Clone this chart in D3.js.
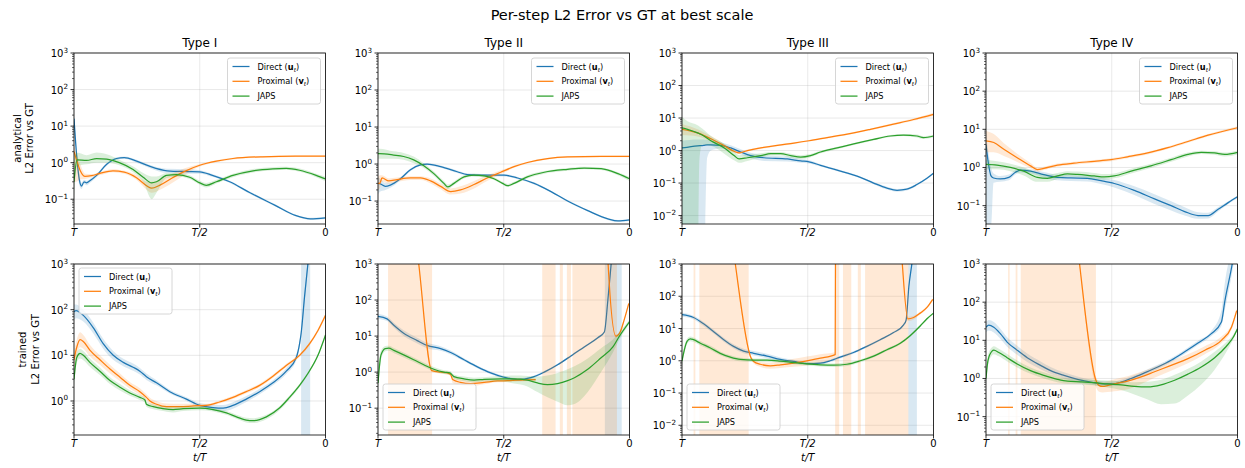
<!DOCTYPE html>
<html>
<head>
<meta charset="utf-8">
<script src="https://cdn.jsdelivr.net/npm/d3@7"></script>
<style>
  body { margin: 0; background: #fff; }
  text { font-family: "DejaVu Sans", sans-serif; fill: #000; }
</style>
</head>
<body>
<svg id="fig" width="1245" height="468"></svg>
<script>
// ---- labels ----
var suptitle = "Per-step L2 Error vs GT at best scale";
var colTitles = ["Type I", "Type II", "Type III", "Type IV"];
var rowLabels = ["analytical", "trained"];
var xTickVals = [0, 0.5, 1];
var xTickText = ["T", "T/2", "0"];
var methodNames = ["Direct", "Proximal", "JAPS"];
var methodSym = ["u", "v", null];
var colors = ["#1f77b4", "#ff7f0e", "#2ca02c"];
// lower end of each log y-axis (upper end is 1e3)
var anYmin = [0.021, 0.024, 0.0055, 0.033];
var trYmin = [0.18, 0.018, 0.005, 0.033];

// ---- data: [position from T (0) to 0 (1), mean, band low, band high] ----
var an1_dir = [[0,16,12,20],[0.005,5,3.5,7],[0.012,1.2,0.8,1.6],[0.021,0.35,0.25,0.5],[0.03,0.23,0.19,0.28],[0.04,0.3,0.26,0.34],[0.05,0.28,0.24,0.32],[0.063,0.32,0.28,0.36],[0.09,0.45,0.4,0.5],[0.13,0.9,0.82,0.98],[0.169,1.3,1.2,1.4],[0.2,1.38,1.28,1.48],[0.249,1.1,1.0,1.2],[0.3,0.8,0.72,0.88],[0.37,0.6,0.52,0.68],[0.45,0.57,0.5,0.66],[0.5,0.56,0.5,0.62],[0.55,0.45,0.41,0.49],[0.619,0.3,0.28,0.32],[0.7,0.15,0.14,0.16],[0.8,0.068,0.063,0.073],[0.88,0.036,0.034,0.038],[0.94,0.029,0.027,0.031],[1,0.031,0.029,0.033]];
var an1_prox = [[0,2.0,0.3,3.0],[0.01,1.2,0.3,1.8],[0.025,0.6,0.35,0.9],[0.044,0.42,0.36,0.5],[0.07,0.44,0.4,0.49],[0.1,0.5,0.45,0.55],[0.155,0.6,0.55,0.66],[0.2,0.55,0.5,0.6],[0.25,0.38,0.33,0.45],[0.29,0.23,0.18,0.3],[0.309,0.2,0.15,0.3],[0.34,0.24,0.18,0.34],[0.39,0.38,0.28,0.5],[0.44,0.58,0.46,0.7],[0.5,0.85,0.78,0.92],[0.566,1.1,1.03,1.17],[0.632,1.3,1.23,1.37],[0.75,1.45,1.38,1.52],[0.88,1.5,1.43,1.57],[1,1.5,1.43,1.57]];
var an1_japs = [[0,0.3,0.1,1.5],[0.012,1.2,0.8,1.9],[0.05,1.15,0.9,1.6],[0.09,1.3,1.0,1.9],[0.13,1.25,1.0,1.7],[0.18,1.0,0.85,1.2],[0.235,0.65,0.55,0.78],[0.275,0.4,0.3,0.52],[0.309,0.28,0.1,0.42],[0.328,0.3,0.15,0.42],[0.368,0.45,0.38,0.52],[0.407,0.47,0.42,0.53],[0.46,0.4,0.36,0.45],[0.5,0.28,0.25,0.32],[0.526,0.24,0.21,0.28],[0.566,0.3,0.27,0.34],[0.632,0.45,0.4,0.5],[0.712,0.6,0.54,0.67],[0.791,0.68,0.62,0.75],[0.844,0.7,0.64,0.77],[0.897,0.62,0.56,0.69],[0.963,0.45,0.4,0.5],[1,0.36,0.31,0.41]];

var an2_dir = [[0,0.3,0.15,0.45],[0.009,0.29,0.18,0.4],[0.029,0.25,0.2,0.31],[0.049,0.27,0.23,0.31],[0.089,0.4,0.36,0.44],[0.129,0.7,0.64,0.76],[0.169,0.95,0.88,1.02],[0.195,1.0,0.93,1.07],[0.249,0.85,0.79,0.91],[0.315,0.62,0.57,0.67],[0.355,0.52,0.48,0.56],[0.421,0.5,0.46,0.54],[0.501,0.5,0.46,0.54],[0.555,0.42,0.39,0.45],[0.621,0.3,0.28,0.32],[0.688,0.18,0.17,0.19],[0.754,0.1,0.094,0.106],[0.834,0.055,0.052,0.058],[0.914,0.033,0.031,0.035],[0.954,0.029,0.027,0.031],[1,0.031,0.029,0.033]];
var an2_prox = [[0,0.3,0.2,0.45],[0.007,0.3,0.22,0.5],[0.016,0.42,0.34,0.5],[0.043,0.35,0.3,0.41],[0.076,0.38,0.33,0.43],[0.129,0.42,0.37,0.47],[0.169,0.42,0.37,0.47],[0.209,0.35,0.3,0.41],[0.249,0.25,0.21,0.3],[0.289,0.18,0.15,0.22],[0.328,0.2,0.16,0.25],[0.382,0.28,0.22,0.35],[0.434,0.42,0.35,0.5],[0.488,0.6,0.53,0.68],[0.541,0.85,0.79,0.91],[0.594,1.1,1.04,1.16],[0.674,1.4,1.33,1.47],[0.754,1.55,1.48,1.62],[0.887,1.6,1.53,1.67],[1,1.6,1.53,1.67]];
var an2_japs = [[0,1.9,1.4,2.6],[0.005,1.9,1.4,2.6],[0.062,1.75,1.4,2.2],[0.102,1.6,1.3,2.0],[0.142,1.3,1.05,1.6],[0.182,0.9,0.78,1.05],[0.222,0.55,0.48,0.63],[0.262,0.3,0.26,0.35],[0.278,0.24,0.21,0.28],[0.302,0.3,0.27,0.34],[0.342,0.45,0.41,0.5],[0.382,0.5,0.46,0.55],[0.422,0.48,0.44,0.53],[0.461,0.4,0.37,0.44],[0.495,0.3,0.28,0.33],[0.515,0.26,0.24,0.29],[0.541,0.3,0.28,0.33],[0.594,0.45,0.41,0.5],[0.661,0.6,0.55,0.65],[0.754,0.72,0.66,0.78],[0.82,0.78,0.72,0.84],[0.887,0.75,0.69,0.81],[0.954,0.55,0.5,0.6],[1,0.4,0.35,0.45]];

var an3_dir = [[0,1.2,1e-4,2.0],[0.062,1.4,1e-4,2.2],[0.086,1.45,1e-4,2.2],[0.1,1.5,0.6,2.1],[0.115,1.5,1.0,2.0],[0.155,1.45,1.15,1.8],[0.194,1.2,1.0,1.45],[0.234,0.9,0.75,1.1],[0.273,0.7,0.58,0.85],[0.326,0.6,0.48,0.72],[0.419,0.55,0.46,0.65],[0.472,0.48,0.42,0.55],[0.505,0.45,0.4,0.5],[0.551,0.35,0.32,0.38],[0.617,0.25,0.23,0.27],[0.709,0.15,0.14,0.16],[0.762,0.1,0.092,0.108],[0.815,0.07,0.063,0.077],[0.855,0.06,0.054,0.066],[0.894,0.065,0.059,0.071],[0.934,0.09,0.083,0.097],[0.974,0.14,0.13,0.15],[1,0.2,0.185,0.215]];
var an3_prox = [[0,4.5,3.0,6.5],[0.062,3.5,2.7,4.5],[0.115,2.3,1.9,2.8],[0.168,1.4,1.2,1.6],[0.207,0.95,0.85,1.05],[0.227,0.85,0.78,0.93],[0.26,1.0,0.93,1.07],[0.313,1.2,1.12,1.28],[0.379,1.45,1.36,1.54],[0.445,1.7,1.6,1.8],[0.505,2.0,1.88,2.12],[0.577,2.5,2.35,2.65],[0.657,3.2,3.0,3.4],[0.749,4.5,4.2,4.8],[0.841,6.5,6.0,7.0],[0.921,9,8.3,9.7],[1,13,11.5,14.5]];
var an3_japs = [[0,5,1e-4,11],[0.022,4.5,1e-4,8],[0.062,3.5,1e-4,6],[0.069,3.3,0.5,5.5],[0.08,3.0,1.5,4.8],[0.115,2.0,1.4,2.8],[0.168,1.2,0.8,1.6],[0.207,0.7,0.5,0.95],[0.227,0.55,0.42,0.72],[0.26,0.6,0.48,0.75],[0.313,0.7,0.6,0.82],[0.353,0.8,0.7,0.9],[0.392,0.8,0.7,0.9],[0.432,0.7,0.6,0.8],[0.472,0.63,0.55,0.72],[0.511,0.7,0.62,0.78],[0.551,0.9,0.82,0.98],[0.617,1.2,1.1,1.3],[0.683,1.6,1.48,1.72],[0.762,2.2,2.05,2.35],[0.828,2.8,2.6,3.0],[0.881,3.0,2.8,3.2],[0.934,2.8,2.5,3.1],[0.96,2.5,2.25,2.75],[1,2.8,2.55,3.05]];

var an4_dir = [[0,4,0.03,8],[0.008,1.5,0.03,3],[0.02,0.6,0.03,1.0],[0.03,0.53,0.4,0.7],[0.057,0.5,0.42,0.6],[0.091,0.55,0.46,0.65],[0.117,0.75,0.65,0.86],[0.137,0.85,0.74,0.96],[0.177,0.8,0.7,0.9],[0.23,0.65,0.55,0.76],[0.284,0.55,0.46,0.65],[0.337,0.53,0.44,0.63],[0.403,0.52,0.43,0.62],[0.457,0.45,0.37,0.55],[0.51,0.38,0.3,0.47],[0.59,0.25,0.19,0.32],[0.67,0.15,0.11,0.2],[0.736,0.1,0.075,0.13],[0.79,0.07,0.055,0.09],[0.843,0.055,0.045,0.067],[0.883,0.055,0.046,0.065],[0.923,0.08,0.07,0.09],[0.963,0.12,0.11,0.13],[1,0.17,0.155,0.185]];
var an4_prox = [[0,5,2.5,9],[0.031,4.5,2.5,7.5],[0.071,3,2.0,4.3],[0.124,1.8,1.4,2.3],[0.177,1.1,0.95,1.3],[0.204,0.88,0.78,1.0],[0.23,0.95,0.86,1.05],[0.284,1.15,1.05,1.27],[0.35,1.3,1.18,1.42],[0.43,1.45,1.32,1.58],[0.497,1.6,1.46,1.74],[0.563,1.9,1.74,2.06],[0.643,2.4,2.2,2.6],[0.723,3.3,3.05,3.55],[0.803,4.8,4.45,5.15],[0.883,7,6.5,7.5],[1,11,10,12]];
var an4_japs = [[0,1.2,0.9,1.6],[0.044,1.15,0.9,1.45],[0.097,1.0,0.8,1.25],[0.15,0.8,0.62,1.0],[0.204,0.55,0.42,0.72],[0.244,0.52,0.42,0.65],[0.284,0.6,0.5,0.72],[0.324,0.68,0.58,0.8],[0.364,0.66,0.56,0.78],[0.43,0.6,0.5,0.72],[0.47,0.57,0.48,0.67],[0.51,0.6,0.52,0.7],[0.577,0.8,0.7,0.92],[0.656,1.1,0.97,1.25],[0.736,1.6,1.42,1.8],[0.803,2.2,1.95,2.45],[0.856,2.5,2.25,2.75],[0.909,2.4,2.15,2.65],[0.949,2.2,1.95,2.45],[1,2.5,2.2,2.8]];

var tr1_dir = [[0,90,60,130],[0.008,95,65,130],[0.037,75,55,100],[0.077,40,30,52],[0.116,18,14,23],[0.156,10,8,12.5],[0.196,7,5.8,8.4],[0.235,5.5,4.6,6.6],[0.262,4.5,3.8,5.3],[0.288,3.4,2.9,4.0],[0.328,2.5,2.2,2.85],[0.381,1.6,1.45,1.77],[0.447,1.1,1.0,1.21],[0.5,0.8,0.72,0.9],[0.553,0.72,0.63,0.83],[0.593,0.7,0.6,0.82],[0.632,0.8,0.68,0.94],[0.685,1.1,0.95,1.28],[0.738,1.6,1.4,1.85],[0.791,2.5,2.2,2.85],[0.844,4.5,3.9,5.2],[0.884,9,7.8,10.5],[0.897,18,15,21],[0.903,30,25,36],[0.917,200,150,260],[0.93,1000,800,1300],[0.943,5000,4000,6000],[0.96,1e5,1e5,1e5]];
var tr1_prox = [[0,8,5,12],[0.011,15,10,22],[0.024,22,15,32],[0.037,20,14,28],[0.063,13,9.5,17],[0.103,8,6.2,10],[0.143,5,4,6.2],[0.183,3.3,2.7,4],[0.222,2.2,1.85,2.6],[0.262,1.6,1.35,1.9],[0.288,1.2,1.02,1.4],[0.302,1.0,0.85,1.18],[0.328,0.85,0.72,1.0],[0.368,0.75,0.64,0.88],[0.421,0.75,0.65,0.87],[0.474,0.78,0.7,0.87],[0.526,0.8,0.74,0.87],[0.579,0.95,0.88,1.03],[0.632,1.2,1.1,1.3],[0.685,1.6,1.47,1.74],[0.738,2.2,2.0,2.4],[0.791,3.5,3.2,3.8],[0.844,6,5.5,6.5],[0.897,10,9.2,10.8],[0.937,18,16.5,19.5],[0.97,35,32,38],[1,75,69,81]];
var tr1_japs = [[0,3,2,5],[0.011,9,7,11.5],[0.024,11,8.5,14],[0.037,10,7.8,12.5],[0.063,7,5.6,8.6],[0.103,4.5,3.7,5.4],[0.143,2.8,2.35,3.3],[0.183,2.0,1.7,2.35],[0.222,1.5,1.3,1.72],[0.262,1.2,1.05,1.36],[0.282,1.05,0.92,1.2],[0.288,0.85,0.75,0.97],[0.315,0.75,0.66,0.85],[0.354,0.68,0.6,0.77],[0.394,0.65,0.56,0.75],[0.434,0.68,0.6,0.77],[0.5,0.7,0.63,0.77],[0.553,0.65,0.59,0.71],[0.606,0.55,0.5,0.6],[0.646,0.45,0.41,0.5],[0.685,0.38,0.34,0.43],[0.712,0.37,0.33,0.42],[0.765,0.45,0.4,0.5],[0.817,0.7,0.63,0.77],[0.857,1.2,1.08,1.32],[0.897,2.2,2.0,2.4],[0.93,4,3.7,4.3],[0.97,10,9.3,10.7],[1,28,26,30]];

var tr2_dir = [[0,35,30,41],[0.036,30,26,35],[0.063,20,17,23.5],[0.102,12,10,14.5],[0.156,7.5,6.2,9],[0.195,5.5,4.6,6.5],[0.249,4.5,3.9,5.2],[0.289,3.5,3.1,3.95],[0.342,2.2,2.0,2.42],[0.395,1.4,1.28,1.53],[0.448,0.95,0.87,1.04],[0.501,0.72,0.66,0.79],[0.555,0.62,0.57,0.68],[0.608,0.7,0.65,0.76],[0.661,1.0,0.93,1.08],[0.714,1.6,1.5,1.7],[0.767,2.8,2.63,2.97],[0.82,5,4.7,5.3],[0.874,9,8.4,9.6],[0.9,13,12,14],[0.914,100,80,120],[0.927,1000,800,1200],[0.94,1e4,1e4,1e4],[0.96,1e5,1e5,1e5]];
var tr2_prox = [[0,1e5,1e5,1e5],[0.12,1e5,1e5,1e5],[0.145,1e4,1e4,1e4],[0.162,1000,900,1100],[0.214,1.1,1.0,1.25],[0.249,1.0,0.9,1.1],[0.275,0.95,0.86,1.05],[0.289,0.85,0.77,0.95],[0.297,0.62,0.5,0.75],[0.328,0.52,0.43,0.64],[0.368,0.48,0.41,0.58],[0.422,0.52,0.46,0.6],[0.475,0.57,0.52,0.63],[0.515,0.58,0.53,0.64],[0.555,0.6,0.55,0.66],[0.627,0.62,0.57,0.68],null,[0.905,1e5,1e5,1e5],[0.915,1000,900,1100],[0.946,10,9,11],[0.963,13,11.5,14.5],[0.98,30,27,33],[0.997,80,72,88]];
var tr2_japs = [[0,0.5,0.3,1.5],[0.012,3,2.2,4],[0.029,4.5,3.8,5.3],[0.043,4.6,3.9,5.4],[0.063,4,3.4,4.7],[0.102,3,2.55,3.5],[0.142,2.2,1.9,2.55],[0.182,1.6,1.4,1.85],[0.222,1.2,1.05,1.38],[0.262,1.0,0.88,1.13],[0.286,0.95,0.84,1.07],[0.302,0.75,0.65,0.86],[0.342,0.65,0.56,0.75],[0.382,0.6,0.52,0.7],[0.422,0.63,0.55,0.72],[0.488,0.65,0.55,0.78],[0.541,0.65,0.48,0.8],[0.594,0.6,0.4,0.78],[0.634,0.5,0.28,0.75],[0.674,0.45,0.2,0.8],[0.714,0.48,0.15,0.95],[0.754,0.58,0.12,1.2],[0.781,0.7,0.13,1.45],[0.834,1.2,0.28,2.4],[0.887,2.5,1.0,4.6],[0.934,5,3.5,8],[0.96,10,8,13],[1,25,22,29]];

var tr3_dir = [[0,27,23,31],[0.046,22,19,25],[0.086,14,12,16],[0.126,8,7,9.2],[0.166,4.5,3.9,5.2],[0.205,2.8,2.4,3.25],[0.245,2.0,1.7,2.35],[0.285,1.7,1.45,2.0],[0.338,1.4,1.2,1.65],[0.391,1.1,0.95,1.27],[0.444,0.95,0.84,1.07],[0.497,0.82,0.74,0.91],[0.55,0.85,0.77,0.94],[0.589,1.0,0.91,1.1],[0.629,1.3,1.18,1.43],[0.682,1.8,1.65,1.96],[0.735,2.8,2.6,3.0],[0.788,4.5,4.2,4.8],[0.841,7.5,7,8],[0.881,13,12,14],[0.891,18,16.5,19.5],[0.902,200,170,240],[0.914,1000,900,1200],[0.93,1e4,1e4,1e4],[0.95,1e5,1e5,1e5]];
var tr3_prox = [[0,1e5,1e5,1e5],[0.17,1e5,1e5,1e5],[0.195,1e4,1e4,1e4],[0.212,1000,900,1100],[0.275,1.2,1.05,1.35],[0.285,0.95,0.82,1.1],[0.311,0.78,0.65,0.92],[0.351,0.7,0.57,0.88],[0.391,0.75,0.6,0.98],[0.444,0.85,0.65,1.15],[0.497,1.0,0.72,1.35],[0.55,1.2,0.85,1.6],[0.609,1.55,1.2,1.85],[0.611,1e5,1e5,1e5],null,[0.86,1e5,1e5,1e5],[0.876,1000,900,1100],[0.898,20,17,23],[0.921,22,19,25],[0.947,30,27,33],[0.974,45,41,49],[0.997,80,73,87]];
var tr3_japs = [[0,1.0,0.7,1.4],[0.02,4,3.3,4.8],[0.033,4.8,4,5.7],[0.046,4.5,3.8,5.3],[0.073,3.5,3,4.1],[0.113,2.5,2.15,2.9],[0.152,1.7,1.48,1.95],[0.192,1.3,1.14,1.48],[0.232,1.1,0.97,1.25],[0.285,1.05,0.93,1.18],[0.338,1.05,0.93,1.18],[0.391,0.98,0.87,1.1],[0.444,0.88,0.78,0.99],[0.497,0.8,0.71,0.9],[0.55,0.75,0.66,0.85],[0.603,0.73,0.64,0.83],[0.656,0.78,0.69,0.88],[0.709,1.0,0.9,1.1],[0.762,1.4,1.27,1.54],[0.815,2.2,2.0,2.42],[0.868,3.5,3.2,3.8],[0.907,6,5.5,6.5],[0.947,12,11,13],[0.974,20,18.5,21.5],[1,30,28,32]];

var tr4_dir = [[0,22,16,30],[0.011,25,18,34],[0.031,22,16,30],[0.057,15,11,20],[0.084,9,6.8,12],[0.124,5.5,4.2,7.2],[0.164,3.5,2.7,4.5],[0.217,2.2,1.75,2.8],[0.257,1.6,1.3,2.0],[0.31,1.2,1.0,1.45],[0.364,0.95,0.8,1.13],[0.417,0.8,0.68,0.94],[0.47,0.72,0.62,0.84],[0.503,0.72,0.63,0.83],[0.537,0.8,0.7,0.92],[0.577,1.0,0.88,1.14],[0.63,1.4,1.23,1.6],[0.683,2,1.76,2.28],[0.736,3,2.65,3.4],[0.79,5,4.4,5.7],[0.843,8.5,7.5,9.7],[0.896,15,13,17.5],[0.936,30,24,60],[0.949,100,60,300],[0.979,1000,600,3000],[0.996,5000,3000,1e4]];
var tr4_prox = [[0,1e5,1e5,1e5],[0.33,1e5,1e5,1e5],[0.355,1e4,1e4,1e4],[0.372,1000,900,1100],[0.437,0.9,0.6,1.1],[0.45,0.65,0.45,0.85],[0.463,0.62,0.43,0.82],[0.483,0.65,0.44,0.85],[0.51,0.72,0.46,0.95],[0.563,0.85,0.52,1.15],[0.617,1.1,0.72,1.5],[0.67,1.5,1.05,2.0],[0.736,2.2,1.6,2.9],[0.803,3.3,2.5,4.3],[0.87,5.5,4.3,7],[0.936,10,8.5,12.5],[0.976,22,19,26],[0.997,60,52,68]];
var tr4_japs = [[0,1.0,0.7,1.4],[0.008,3,2.2,4],[0.024,5.2,4,6.6],[0.031,5.5,4.3,7],[0.051,4.8,3.8,6],[0.084,3.5,2.8,4.4],[0.124,2.4,1.95,2.95],[0.177,1.6,1.32,1.95],[0.23,1.2,1.0,1.45],[0.284,0.95,0.8,1.13],[0.324,0.85,0.72,1.0],[0.377,0.82,0.7,0.96],[0.43,0.78,0.66,0.92],[0.483,0.72,0.58,0.88],[0.537,0.68,0.5,0.85],[0.59,0.62,0.38,0.8],[0.643,0.6,0.28,0.82],[0.696,0.68,0.21,0.92],[0.75,0.9,0.22,1.25],[0.803,1.3,0.36,1.8],[0.856,2,0.7,2.8],[0.909,3.5,1.7,5],[0.956,7,5,9],[0.983,12,10.5,14],[1,20,18,22]];

// regions where a band covers the whole y-range: [from, to]
var tr1_dir_strips = [[0.903, 0.939]];
var tr2_dir_strips = [[0.902, 0.969]];
var tr2_prox_strips = [[0.04, 0.215], [0.653, 0.706], [0.723, 0.735], [0.751, 0.767], [0.773, 0.95]];
var tr3_dir_strips = [[0.9, 0.934]];
var tr3_prox_strips = [[0.046, 0.053], [0.069, 0.265], [0.609, 0.625], [0.64, 0.673], [0.699, 0.711], [0.728, 0.9]];
var tr4_prox_strips = [[0.088, 0.094], [0.118, 0.125], [0.138, 0.437]];

// ---- layout ----
var svg = d3.select("#fig");
var panelLeft = [74, 378, 682, 986], panelW = 251.5;
var rowTop = [53, 264], panelH = 171;

var panels = [
  [ {s: [an1_dir, an1_prox, an1_japs], st: [[], [], []]},
    {s: [an2_dir, an2_prox, an2_japs], st: [[], [], []]},
    {s: [an3_dir, an3_prox, an3_japs], st: [[], [], []]},
    {s: [an4_dir, an4_prox, an4_japs], st: [[], [], []]} ],
  [ {s: [tr1_dir, tr1_prox, tr1_japs], st: [tr1_dir_strips, [], []]},
    {s: [tr2_dir, tr2_prox, tr2_japs], st: [tr2_dir_strips, tr2_prox_strips, []]},
    {s: [tr3_dir, tr3_prox, tr3_japs], st: [tr3_dir_strips, tr3_prox_strips, []]},
    {s: [tr4_dir, tr4_prox, tr4_japs], st: [[], tr4_prox_strips, []]} ]
];
var yMins = [anYmin, trYmin];

svg.append("text")
  .attr("x", 622).attr("y", 20)
  .attr("text-anchor", "middle")
  .attr("font-size", 14.5)
  .text(suptitle);

function powLabel(sel, k) {
  sel.append("tspan").text("10");
  sel.append("tspan").attr("dy", -4.5).attr("font-size", 7.2)
    .text(k < 0 ? "\u2212" + (-k) : String(k));
}

panels.forEach(function(row, r) {
  row.forEach(function(p, c) {
    var left = panelLeft[c], top = rowTop[r];
    var x = d3.scaleLinear().domain([0, 1]).range([0, panelW]);
    var y = d3.scaleLog().domain([yMins[r][c], 1000]).range([panelH, 0]);
    var g = svg.append("g").attr("transform", "translate(" + left + "," + top + ")");
    var clipId = "clip" + r + c;
    g.append("clipPath").attr("id", clipId)
      .append("rect").attr("width", panelW).attr("height", panelH);

    var lo = Math.ceil(Math.log10(yMins[r][c]) - 1e-9);
    var majors = d3.range(lo, 4);
    var minors = [];
    d3.range(lo - 1, 3).forEach(function(k) {
      for (var m = 2; m <= 9; m++) {
        var v = m * Math.pow(10, k);
        if (v >= yMins[r][c] && v <= 1000) minors.push(v);
      }
    });

    // grid
    g.append("g").selectAll("line").data(majors).enter().append("line")
      .attr("x1", 0).attr("x2", panelW)
      .attr("y1", function(k) { return y(Math.pow(10, k)); })
      .attr("y2", function(k) { return y(Math.pow(10, k)); })
      .attr("stroke", "#b0b0b0").attr("stroke-opacity", 0.35).attr("stroke-width", 0.8);
    g.append("g").selectAll("line").data(xTickVals).enter().append("line")
      .attr("x1", x).attr("x2", x).attr("y1", 0).attr("y2", panelH)
      .attr("stroke", "#b0b0b0").attr("stroke-opacity", 0.35).attr("stroke-width", 0.8);

    var plot = g.append("g").attr("clip-path", "url(#" + clipId + ")");
    var area = d3.area().defined(function(d) { return d; })
      .x(function(d) { return x(d[0]); })
      .y0(function(d) { return y(d[2]); })
      .y1(function(d) { return y(d[3]); })
      .curve(d3.curveMonotoneX);
    var line = d3.line().defined(function(d) { return d; })
      .x(function(d) { return x(d[0]); })
      .y(function(d) { return y(d[1]); })
      .curve(d3.curveMonotoneX);

    p.s.forEach(function(data, i) {
      plot.append("path").datum(data).attr("d", area)
        .attr("fill", colors[i]).attr("fill-opacity", 0.17).attr("stroke", "none");
      plot.append("g").selectAll("rect").data(p.st[i]).enter().append("rect")
        .attr("x", function(d) { return x(d[0]); })
        .attr("width", function(d) { return x(d[1]) - x(d[0]); })
        .attr("y", 0).attr("height", panelH)
        .attr("fill", colors[i]).attr("fill-opacity", 0.17);
      plot.append("path").datum(data).attr("d", line)
        .attr("fill", "none").attr("stroke", colors[i]).attr("stroke-width", 1.25);
    });

    // spines
    g.append("rect").attr("width", panelW).attr("height", panelH)
      .attr("fill", "none").attr("stroke", "#000").attr("stroke-width", 0.8);

    // y ticks
    g.append("g").selectAll("line").data(minors).enter().append("line")
      .attr("x1", -2).attr("x2", 0).attr("y1", y).attr("y2", y)
      .attr("stroke", "#000").attr("stroke-width", 0.6);
    g.append("g").selectAll("line").data(majors).enter().append("line")
      .attr("x1", -3.5).attr("x2", 0)
      .attr("y1", function(k) { return y(Math.pow(10, k)); })
      .attr("y2", function(k) { return y(Math.pow(10, k)); })
      .attr("stroke", "#000").attr("stroke-width", 0.8);
    g.append("g").selectAll("text").data(majors).enter().append("text")
      .attr("x", -6).attr("y", function(k) { return y(Math.pow(10, k)) + 4; })
      .attr("text-anchor", "end").attr("font-size", 10)
      .each(function(k) { powLabel(d3.select(this), k); });

    // x ticks
    g.append("g").selectAll("line").data(xTickVals).enter().append("line")
      .attr("x1", x).attr("x2", x).attr("y1", panelH).attr("y2", panelH + 3.5)
      .attr("stroke", "#000").attr("stroke-width", 0.8);
    g.append("g").selectAll("text").data(xTickVals).enter().append("text")
      .attr("x", x).attr("y", panelH + 11.5)
      .attr("text-anchor", "middle").attr("font-size", 10)
      .attr("font-style", function(d, i) { return i < 2 ? "italic" : null; })
      .text(function(d, i) { return xTickText[i]; });

    if (r === 0) {
      g.append("text").attr("x", panelW / 2).attr("y", -6)
        .attr("text-anchor", "middle").attr("font-size", 12).text(colTitles[c]);
    }
    if (r === 1) {
      var xl = g.append("text").attr("x", panelW / 2).attr("y", panelH + 25.5)
        .attr("text-anchor", "middle").attr("font-size", 10).attr("font-style", "italic");
      xl.text("t/T");
    }

    // legend
    var lw = 93, lh = 46, lx, ly;
    if (r === 0) { lx = panelW - 5 - lw; ly = 5; }
    else if (c === 0) { lx = 5; ly = 4; }
    else { lx = 5; ly = panelH - 5 - lh; }
    var lg = g.append("g").attr("transform", "translate(" + lx + "," + ly + ")");
    lg.append("rect").attr("width", lw).attr("height", lh).attr("rx", 2.5)
      .attr("fill", "#fff").attr("fill-opacity", 0.8)
      .attr("stroke", "#cccccc").attr("stroke-width", 0.8);
    methodNames.forEach(function(name, i) {
      var cy = 8.5 + i * 14.8;
      lg.append("line").attr("x1", 5).attr("x2", 22).attr("y1", cy).attr("y2", cy)
        .attr("stroke", colors[i]).attr("stroke-width", 1.25);
      var t = lg.append("text").attr("x", 30).attr("y", cy + 3).attr("font-size", 8.2);
      if (methodSym[i]) {
        t.append("tspan").text(name + " (");
        t.append("tspan").attr("font-weight", "bold").text(methodSym[i]);
        t.append("tspan").attr("dy", 2).attr("font-size", 5.8).attr("font-style", "italic").text("t");
        t.append("tspan").attr("dy", -2).text(")");
      } else {
        t.text(name);
      }
    });
  });

  // row label
  var cy = rowTop[r] + panelH / 2;
  var bx = r === 0 ? 33 : 38.5;
  svg.append("text").attr("transform", "translate(" + (bx - 12.5) + "," + cy + ") rotate(-90)")
    .attr("text-anchor", "middle").attr("font-size", 10).text(rowLabels[r]);
  svg.append("text").attr("transform", "translate(" + bx + "," + cy + ") rotate(-90)")
    .attr("text-anchor", "middle").attr("font-size", 10).text("L2 Error vs GT");
});
</script>
</body>
</html>
